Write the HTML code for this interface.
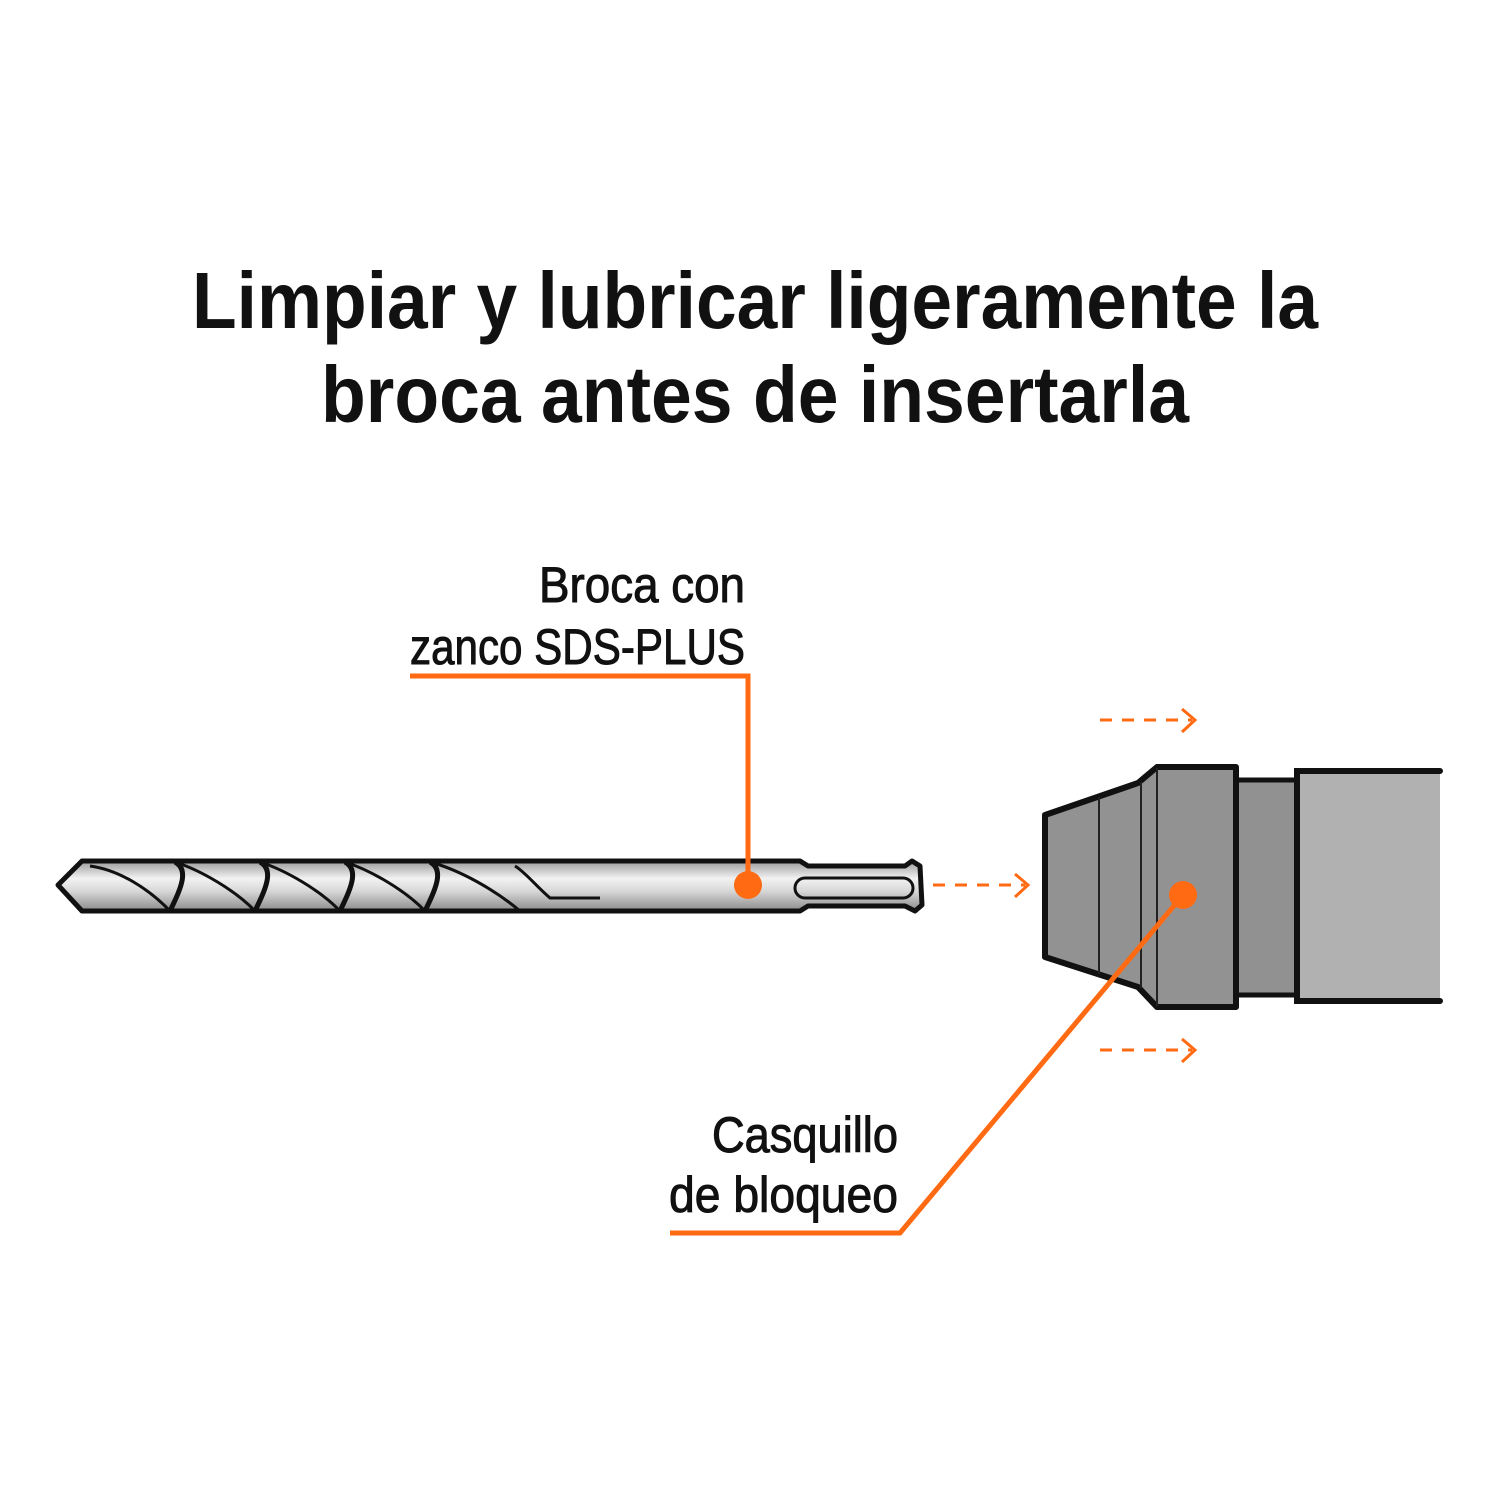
<!DOCTYPE html>
<html><head><meta charset="utf-8"><style>html,body{margin:0;padding:0;background:#fff}svg{display:block}</style></head>
<body>
<svg width="1500" height="1500" viewBox="0 0 1500 1500" xmlns="http://www.w3.org/2000/svg">
<defs>
<linearGradient id="steel" x1="0" y1="0" x2="0" y2="1">
<stop offset="0" stop-color="#9a9a9a"/><stop offset="0.35" stop-color="#f2f2f2"/><stop offset="0.6" stop-color="#d8d8d8"/><stop offset="1" stop-color="#8a8a8a"/>
</linearGradient>
</defs>
<g font-family="Liberation Sans, sans-serif" font-weight="bold" fill="#111">
<text x="755" y="328" font-size="80" text-anchor="middle" textLength="1126" lengthAdjust="spacingAndGlyphs">Limpiar y lubricar ligeramente la</text>
<text x="755" y="422" font-size="80" text-anchor="middle" textLength="868" lengthAdjust="spacingAndGlyphs">broca antes de insertarla</text>
</g>
<g font-family="Liberation Sans, sans-serif" fill="#111" stroke="#111" stroke-width="1" font-size="50">
<text x="745" y="602" text-anchor="end" textLength="206" lengthAdjust="spacingAndGlyphs">Broca con</text>
<text x="745" y="664" text-anchor="end" textLength="335" lengthAdjust="spacingAndGlyphs">zanco SDS-PLUS</text>
<text x="898" y="1152" text-anchor="end" textLength="186" lengthAdjust="spacingAndGlyphs">Casquillo</text>
<text x="898" y="1212" text-anchor="end" textLength="229" lengthAdjust="spacingAndGlyphs">de bloqueo</text>
</g>
<!-- drill bit -->
<path d="M58,885 L82,861 L800,861 L808,866 L905,866 L912,861 L920,866 L922,905 L915,911 L905,906 L808,906 L800,911 L82,911 Z" fill="url(#steel)" stroke="#111" stroke-width="5" stroke-linejoin="round"/>
<g fill="none" stroke="#111" stroke-width="3">
<path d="M170,911 C150,890 120,870 90,866"/>
<path d="M255,911 C235,890 200,870 175,862"/>
<path d="M340,911 C320,890 285,870 260,862"/>
<path d="M425,911 C405,890 370,870 345,862"/>
<path d="M520,911 C495,890 460,870 430,862"/>
<path d="M600,898 L550,898 C535,885 525,872 515,866"/>
<path d="M170,911 C180,890 190,870 175,862" stroke-width="5"/>
<path d="M255,911 C265,890 275,870 260,862" stroke-width="5"/>
<path d="M340,911 C350,890 360,870 345,862" stroke-width="5"/>
<path d="M425,911 C435,890 445,870 430,862" stroke-width="5"/>
<rect x="795" y="878" width="118" height="20" rx="10"/>
</g>
<!-- chuck -->
<rect x="1236" y="780" width="61" height="215" fill="#919191" stroke="#111" stroke-width="5"/>
<rect x="1297" y="771" width="143" height="230" fill="#b1b1b1"/>
<path d="M1440,771 L1297,771 L1297,1001 L1440,1001" fill="none" stroke="#111" stroke-width="6" stroke-linecap="round"/>
<path d="M1045,815 L1138,783 L1157,767 L1236,767 L1236,1007 L1157,1007 L1138,987 L1045,957 Z" fill="#929292" stroke="#111" stroke-width="6" stroke-linejoin="round"/>
<g stroke="#222" stroke-width="2"><line x1="1099" y1="797" x2="1099" y2="974"/><line x1="1141" y1="782" x2="1141" y2="988"/><line x1="1157" y1="768" x2="1157" y2="1006"/></g>
<!-- leaders -->
<g stroke="#ff6a13" fill="none" stroke-width="5">
<polyline points="410,676 748,676 748,885"/>
<polyline points="1183,895 900,1233 670,1233"/>
<g stroke-width="3" stroke-dasharray="12,10"><line x1="1100" y1="720" x2="1192" y2="720"/><line x1="933" y1="885" x2="1025" y2="885"/><line x1="1100" y1="1050" x2="1192" y2="1050"/></g>
<g stroke-width="3"><polyline points="1182,709 1195,720 1182,732"/><polyline points="1015,874 1028,885 1015,897"/><polyline points="1182,1039 1195,1050 1182,1062"/></g>
</g>
<circle cx="748" cy="885" r="14" fill="#ff6a13"/>
<circle cx="1183" cy="895" r="14" fill="#ff6a13"/>
</svg>
</body></html>
